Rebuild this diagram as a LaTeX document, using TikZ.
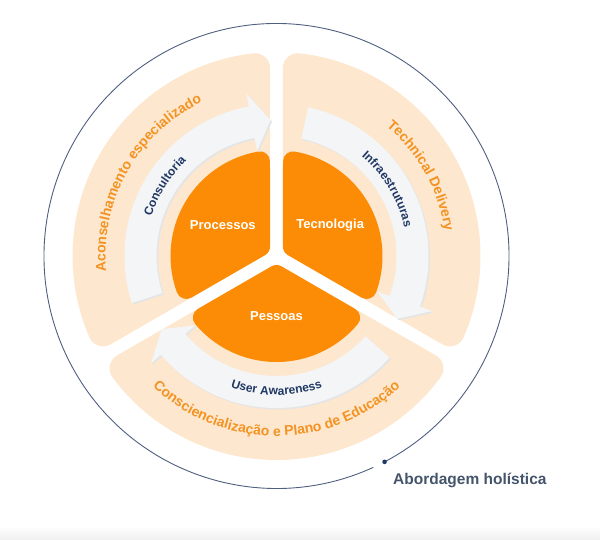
\documentclass[tikz,border=0pt]{standalone}
\usepackage{fontspec}
\setmainfont{Liberation Sans}
\usetikzlibrary{decorations.text}

\definecolor{coreorange}{HTML}{FC8C05}
\definecolor{peach}{HTML}{FDE7CF}
\definecolor{arrowwhite}{HTML}{F4F5F7}
\definecolor{navytext}{HTML}{1F3864}
\definecolor{labelorange}{HTML}{F39322}
\definecolor{ringblue}{HTML}{4F5F80}
\definecolor{slatetext}{HTML}{44546A}

\newcommand{\arrowfont}{\fontsize{12}{14}\selectfont\bfseries\color{navytext}}
\newcommand{\bandfont}{\fontsize{14}{16}\selectfont\bfseries\color{labelorange}}

\begin{document}
\begin{tikzpicture}[
  x=1pt, y=1pt,
  band/.style = {fill=peach, draw=peach, line width=30pt, line join=round},
  core/.style = {fill=coreorange, draw=coreorange, line width=20pt, line join=round},
  flow/.style = {fill=arrowwhite},
  flowshadow/.style = {fill=black!10, shift={(1.5,-1.5)}},
  corelabel/.style = {text=white, font=\fontsize{13}{15}\selectfont\bfseries},
  arclabel/.style = {decorate, decoration={text along path, text align=center, text={#1}}},
  ring/.style = {draw=ringblue, line width=0.9pt},
  ringdot/.style = {circle, fill=navytext, inner sep=0pt, minimum size=4.6pt},
]
  \useasboundingbox (-276.5,-284) rectangle (323.5,256);
  \shade[top color=white, bottom color=black!6] (-276.5,-284) rectangle (323.5,-270);

  % outer peach sectors, then the orange core
  \foreach \a in {90,210,330}
    \filldraw[band] ({\a+60}:24.8) -- ({\a+6.5}:189)
      arc[start angle=\a+6.5, end angle=\a+113.5, radius=189] -- cycle;
  \foreach \a in {90,210,330}
    \filldraw[core] ({\a+60}:19) -- ({\a+9.9}:96)
      arc[start angle=\a+9.9, end angle=\a+110.1, radius=96] -- cycle;

  % curved arrows (tail angle / tip angle)
  \foreach \s/\e in {198/92.5, 78/-27.5, 318/212.5} {
    \fill[flowshadow] (\s:152) arc[start angle=\s, end angle=\e+8, radius=152]
      -- ({\e+8}:165) -- (\e:136) -- ({\e+8}:107) -- ({\e+8}:120)
      arc[start angle=\e+8, end angle=\s, radius=120] -- cycle;
    \fill[flow] (\s:152) arc[start angle=\s, end angle=\e+8, radius=152]
      -- ({\e+8}:165) -- (\e:136) -- ({\e+8}:107) -- ({\e+8}:120)
      arc[start angle=\e+8, end angle=\s, radius=120] -- cycle;
  }

  \node[corelabel] (proc) at (150:62) {Processos};
  \node[corelabel] (tecn) at (30:62) {Tecnologia};
  \node[corelabel] (pess) at (270:60) {Pessoas};

  % texts on the arrows
  \path[arclabel={|\arrowfont|Consultoria}] (178:131) arc[start angle=178, end angle=118, radius=131];
  \path[arclabel={|\arrowfont|Infraestruturas}] (61:131) arc[start angle=61, end angle=1, radius=131];
  \path[arclabel={|\arrowfont|User Awareness}] (235:139) arc[start angle=235, end angle=305, radius=139];

  % texts on the peach bands
  \path[arclabel={|\bandfont|Aconselhamento especializado}] (196:171) arc[start angle=196, end angle=105, radius=171];
  \path[arclabel={|\bandfont|Technical Delivery}] (60:170) arc[start angle=60, end angle=-2, radius=170];
  \path[arclabel={|\bandfont|Consciencialização e Plano de Educação}] (218:180) arc[start angle=218, end angle=322, radius=180];

  % holistic ring
  \draw[ring] (-62.3:232.5) arc[start angle=-62.3, end angle=294.6, radius=232.5];
  \node[ringdot] (ringend) at (-62.3:232.5) {};
  \node[anchor=base west, inner sep=0pt, text=slatetext,
    font=\fontsize{15.5}{18}\selectfont\bfseries] (abord) at (116.5,-229) {Abordagem holística};
\end{tikzpicture}
\end{document}
